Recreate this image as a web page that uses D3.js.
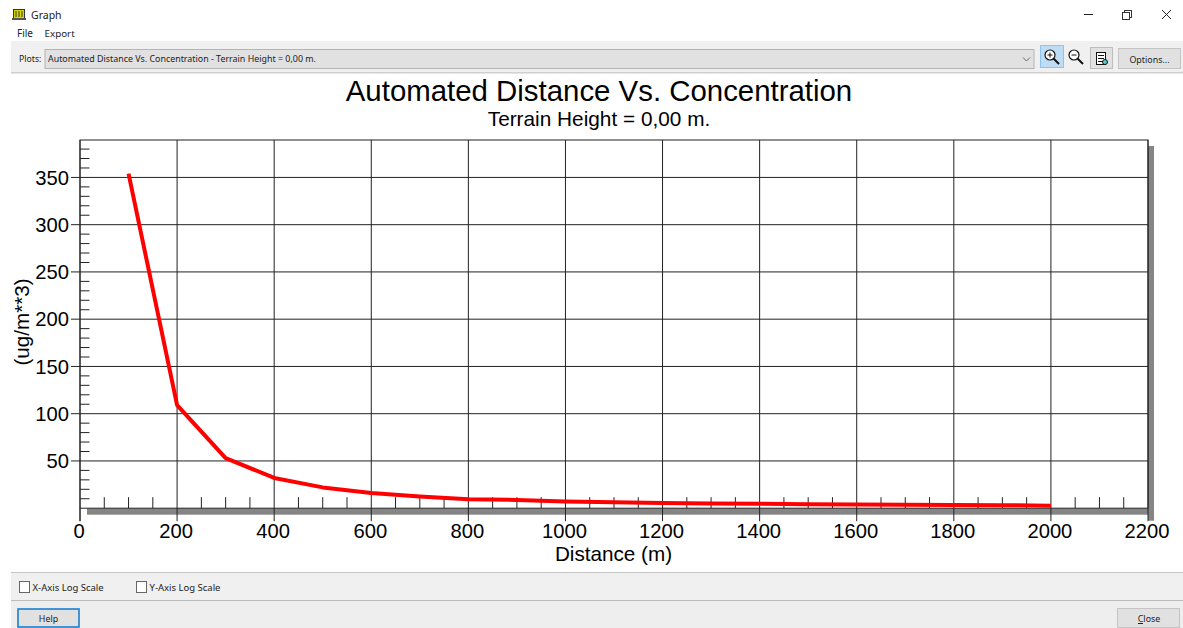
<!DOCTYPE html>
<html>
<head>
<meta charset="utf-8">
<script src="https://cdn.jsdelivr.net/npm/d3@7/dist/d3.min.js"></script>
<style>
html,body{margin:0;padding:0;background:#fff;overflow:hidden}
svg{display:block}
.ui{font-family:"Noto Sans",sans-serif;fill:#222}
.plot{font-family:"Liberation Sans",Arial,sans-serif;fill:#000}
</style>
</head>
<body>
<svg id="c" width="1183" height="628"></svg>
<script>
const distances = [100,200,300,400,500,600,700,800,900,1000,1100,1200,1300,1400,1500,1600,1700,1800,1900,2000];
const concentration = [354,109,53,32,22,16,12.5,9.5,8.8,7.2,6.2,5.6,5.1,4.7,4.2,3.9,3.6,3.4,3.2,2.6];
const xTicks = [0,200,400,600,800,1000,1200,1400,1600,1800,2000,2200];
const xMinor = d3.range(50,2200,50).filter(v=>v%200!==0);
const yTicks = [50,100,150,200,250,300,350];
const yMinor = d3.range(10,390,10).filter(v=>v%50!==0);
const chartTitle = "Automated Distance Vs. Concentration";
const chartSubtitle = "Terrain Height = 0,00 m.";
const xLabel = "Distance (m)";
const yLabel = "(ug/m**3)";
const plotChoice = "Automated Distance Vs. Concentration - Terrain Height = 0,00 m.";

const svg = d3.select("#c");
const L=80,R=1148,T=140,B=508.2;
const x = d3.scaleLinear().domain([0,2200]).range([L,R]);
const y = d3.scaleLinear().domain([0,389.6]).range([B,T]);

// window chrome
function rect(px,py,w,h,fill,stroke,sw){
  return svg.append("rect").attr("x",px).attr("y",py).attr("width",w).attr("height",h)
    .attr("fill",fill).attr("stroke",stroke||"none").attr("stroke-width",sw||1);
}
function uiText(px,py,t,size,anchor,fill){
  return svg.append("text").attr("class","ui").attr("x",px).attr("y",py).attr("font-size",size)
    .attr("text-anchor",anchor||"start").style("fill",fill||"#222").text(t);
}
// title bar icon
rect(13.5,9.5,11,9,"#d8d800","#333");
rect(12,18,14,2,"#555");
svg.append("g").selectAll("line").data([16,19,22]).join("line")
  .attr("x1",d=>d).attr("x2",d=>d).attr("y1",11).attr("y2",17).attr("stroke","#333");
uiText(31,19,"Graph",10.5);
uiText(17,37,"File",10);
uiText(44.5,37,"Export",9.8);
// window buttons
svg.append("line").attr("x1",1084).attr("x2",1093).attr("y1",14.5).attr("y2",14.5).attr("stroke","#222");
rect(1124.5,10.5,7,7,"none","#333");
rect(1122.5,12.5,7,7,"#fff","#333");
svg.append("path").attr("d","M1162 10L1171 19M1171 10L1162 19").attr("stroke","#222").attr("fill","none");

// toolbar
rect(11,41,1172,32,"#f0f0f0");
rect(11,72,1172,1.5,"#d0d0d0");
uiText(19,61.5,"Plots:",8.7);
rect(45,49.5,989,19,"#e1e1e1","#b4b4b4");
uiText(48,62,plotChoice,8.9);
svg.append("path").attr("d","M1023 57.5L1026.5 61L1030 57.5").attr("fill","none").attr("stroke","#666");
rect(1040.5,45.5,23,22,"#bfdcf5","#8ec3ee");
function lens(cx,cy,minus){
  svg.append("circle").attr("cx",cx).attr("cy",cy).attr("r",5).attr("fill","#fff").attr("stroke","#111").attr("stroke-width",1.2);
  svg.append("line").attr("x1",cx+3.5).attr("y1",cy+3.5).attr("x2",cx+9).attr("y2",cy+9).attr("stroke","#111").attr("stroke-width",2);
  svg.append("line").attr("x1",cx-2.5).attr("x2",cx+2.5).attr("y1",cy).attr("y2",cy).attr("stroke","#111");
  if(!minus) svg.append("line").attr("x1",cx).attr("x2",cx).attr("y1",cy-2.5).attr("y2",cy+2.5).attr("stroke","#111");
}
lens(1050,55,false); lens(1074,55,true);
rect(1090.5,47.5,22,21,"#e1e1e1","#bdbdbd");
rect(1096.5,52.5,9,12,"#fff","#111");
svg.append("g").selectAll("line").data([55,58,61]).join("line")
  .attr("x1",1098).attr("x2",1104).attr("y1",d=>d+.5).attr("y2",d=>d+.5).attr("stroke","#111");
svg.append("circle").attr("cx",1105).attr("cy",62).attr("r",2.5).attr("fill","#5cc").attr("stroke","#111");
rect(1118.5,48.5,62,20,"#e1e1e1","#c4c4c4");
uiText(1149.5,62.5,"Options...",8.9,"middle");

// plot shadow
rect(R,T+6,6,B-T+6.5,"#858585");
rect(L+7,B,R-L-1,6.5,"#858585");
rect(L,T,R-L,B-T,"#fff");

// grid
const grid = svg.append("g").attr("stroke","#222").attr("stroke-width",1);
grid.selectAll(".gx").data(xTicks).join("line").attr("class","gx")
  .attr("x1",d=>x(d)).attr("x2",d=>x(d)).attr("y1",T).attr("y2",B+13);
grid.selectAll(".gy").data(yTicks).join("line").attr("class","gy")
  .attr("x1",L-9).attr("x2",R).attr("y1",d=>y(d)).attr("y2",d=>y(d));
grid.selectAll(".mx").data(xMinor).join("line").attr("class","mx")
  .attr("x1",d=>x(d)).attr("x2",d=>x(d)).attr("y1",B-11).attr("y2",B);
grid.selectAll(".my").data(yMinor).join("line").attr("class","my")
  .attr("x1",L).attr("x2",L+9.5).attr("y1",d=>y(d)).attr("y2",d=>y(d));
// frame
grid.append("rect").attr("x",L).attr("y",T).attr("width",R-L).attr("height",B-T).attr("fill","none");
grid.append("line").attr("x1",L).attr("x2",L).attr("y1",B).attr("y2",B+13);

// series
svg.append("path").datum(distances.map((d,i)=>[d,concentration[i]]))
  .attr("fill","none").attr("stroke","#ff0000").attr("stroke-width",4).attr("stroke-linejoin","round")
  .attr("d",d3.line().x(d=>x(d[0])).y(d=>y(d[1])));

// tick labels
const pt = svg.append("g").attr("class","plot");
pt.selectAll(".tx").data(xTicks).join("text").attr("class","tx")
  .attr("x",d=>x(d)-1).attr("y",538).attr("text-anchor","middle").attr("font-size",20.2).text(d=>d);
pt.selectAll(".ty").data(yTicks).join("text").attr("class","ty")
  .attr("x",69).attr("y",d=>y(d)+7.2).attr("text-anchor","end").attr("font-size",20.2).text(d=>d);
pt.append("text").attr("x",599).attr("y",101).attr("text-anchor","middle").attr("font-size",29.4).text(chartTitle);
pt.append("text").attr("x",599).attr("y",126).attr("text-anchor","middle").attr("font-size",20.8).text(chartSubtitle);
pt.append("text").attr("x",613.5).attr("y",561).attr("text-anchor","middle").attr("font-size",20.7).text(xLabel);
pt.append("text").attr("transform","translate(29,322) rotate(-90)").attr("text-anchor","middle").attr("font-size",20.6).text(yLabel);

// bottom panels
rect(11,572,1172,56,"#f0f0f0");
rect(11,572,1172,1,"#c4c4c4");
rect(11,600,1172,1,"#bdbdbd");
rect(11,601,1172,27,"#eeeeee");
rect(19.5,581.5,10,11,"#fff","#666");
uiText(32.5,590.5,"X-Axis Log Scale",9.5);
rect(136.5,581.5,10,11,"#fff","#666");
uiText(149.5,590.5,"Y-Axis Log Scale",9.5);
rect(18,609,61,18,"#e1e1e1","#1a7fd0",1.6);
uiText(48.5,621.5,"Help",8.9,"middle");
rect(1117.5,608.5,62,19,"#e1e1e1","#c4c4c4");
uiText(1149,622,"Close",8.9,"middle");
svg.append("line").attr("x1",1138).attr("x2",1143).attr("y1",623.5).attr("y2",623.5).attr("stroke","#222");
</script>
</body>
</html>
